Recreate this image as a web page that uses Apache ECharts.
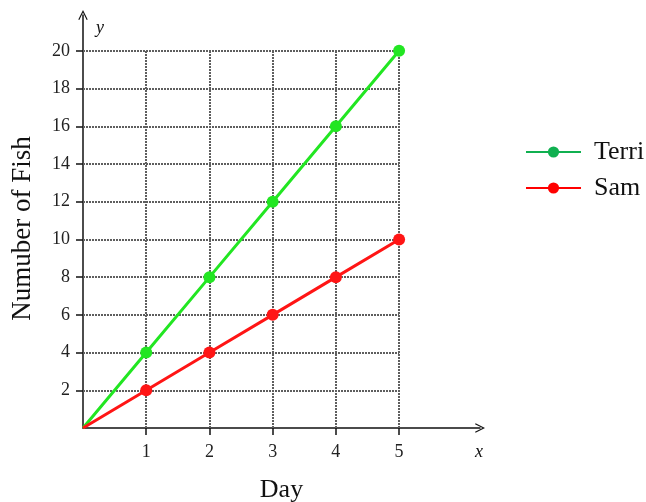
<!DOCTYPE html>
<html><head><meta charset="utf-8">
<script src="https://cdn.jsdelivr.net/npm/echarts@6/dist/echarts.min.js"></script>
<style>html,body{margin:0;padding:0;background:#fff}#c{width:646px;height:502px}</style>
</head><body><div id="c"></div>
<script>
const days = [0, 1, 2, 3, 4, 5];
const terri = [0, 4, 8, 12, 16, 20];
const sam = [0, 2, 4, 6, 8, 10];
const xTicks = [1, 2, 3, 4, 5];
const yTicks = [2, 4, 6, 8, 10, 12, 14, 16, 18, 20];

const font = 'Liberation Serif';
const chevron = 'path://M0,10 L5,0 L10,10 L8.9,10.6 L5,2.6 L1.1,10.6 Z';

function pts(vals) {
  return days.map((d, i) => i === 0 ? {value: [d, vals[i]], symbol: 'none'} : [d, vals[i]]);
}
const gridLines = [];
days.slice(1).forEach(d => gridLines.push([{coord: [d, 0]}, {coord: [d, yTicks[yTicks.length - 1]]}]));
yTicks.forEach(v => gridLines.push([{coord: [0, v]}, {coord: [xTicks[xTicks.length - 1], v]}]));

const chart = echarts.init(document.getElementById('c'));
chart.setOption({
  animation: false,
  backgroundColor: '#fff',
  grid: {left: 83, top: 15, right: 166, bottom: 74, containLabel: false, outerBoundsMode: 'none'},
  xAxis: {
    type: 'value', min: 0, max: 6.28,
    name: 'Day', nameLocation: 'middle', nameGap: 49,
    nameTextStyle: {fontFamily: font, fontSize: 26, color: '#111'},
    axisLine: {show: true, onZero: false, lineStyle: {color: '#111', width: 1.5}, symbol: ['none', chevron], symbolSize: [13, 10]},
    axisTick: {show: true, inside: false, length: 7, customValues: xTicks, lineStyle: {color: '#111', width: 1.5}},
    axisLabel: {customValues: xTicks, fontFamily: font, fontSize: 18, color: '#222', margin: 15},
    splitLine: {show: false}
  },
  yAxis: {
    type: 'value', min: 0, max: 21.9,
    name: 'Numuber of Fish', nameLocation: 'middle', nameGap: 47,
    nameTextStyle: {fontFamily: font, fontSize: 27, color: '#111', padding: [0, 14, 0, 0]},
    axisLine: {show: true, onZero: false, lineStyle: {color: '#111', width: 1.5}, symbol: ['none', chevron], symbolSize: [13, 10]},
    axisTick: {show: true, inside: false, length: 7, customValues: yTicks, lineStyle: {color: '#111', width: 1.5}},
    axisLabel: {customValues: yTicks, fontFamily: font, fontSize: 18, color: '#222', margin: 13},
    splitLine: {show: false}
  },
  legend: {
    orient: 'vertical', left: 520, top: 134, itemWidth: 55, itemHeight: 14, itemGap: 10,
    textStyle: {fontFamily: font, fontSize: 26, color: '#111', padding: [0, 0, 0, 8]},
    data: [
      {name: 'Terri', itemStyle: {color: '#10b050'}, lineStyle: {color: '#10b050'}},
      {name: 'Sam', itemStyle: {color: '#ff0000'}, lineStyle: {color: '#ff0000'}}
    ]
  },
  graphic: [
    {type: 'text', left: 96, top: 19, style: {text: 'y', font: 'italic 18px "Liberation Serif"', fill: '#111'}},
    {type: 'text', left: 475, top: 443, style: {text: 'x', font: 'italic 18px "Liberation Serif"', fill: '#111'}}
  ],
  series: [
    {
      name: 'grid', type: 'line', data: [], silent: true,
      markLine: {silent: true, symbol: 'none', label: {show: false}, animation: false,
        lineStyle: {color: '#5e5e5e', width: 2, type: [2, 1]}, data: gridLines}
    },
    {
      name: 'Terri', type: 'line', data: pts(terri), symbol: 'circle', symbolSize: 12,
      itemStyle: {color: '#22e622'}, lineStyle: {color: '#22e622', width: 3}, z: 5
    },
    {
      name: 'Sam', type: 'line', data: pts(sam), symbol: 'circle', symbolSize: 12,
      itemStyle: {color: '#ff1515'}, lineStyle: {color: '#ff1515', width: 3}, z: 5
    }
  ]
});
</script></body></html>
